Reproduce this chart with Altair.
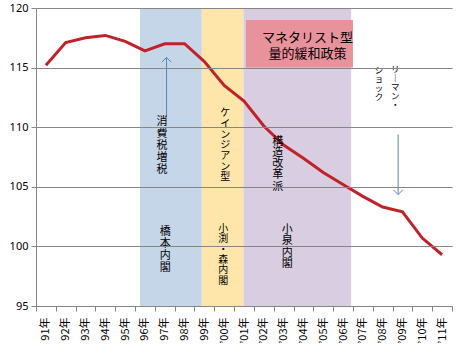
import altair as alt
import pandas as pd

# ---- data ----
years = ["91年", "92年", "93年", "94年", "95年", "96年", "97年", "98年", "99年",
         "’00年", "’01年", "’02年", "’03年", "’04年", "’05年", "’06年",
         "’07年", "’08年", "’09年", "’10年", "’11年"]
values = [115.2, 117.1, 117.5, 117.7, 117.2, 116.4, 117.0, 117.0, 115.5,
          113.5, 112.2, 110.1, 108.5, 107.4, 106.2, 105.2,
          104.2, 103.3, 102.9, 100.7, 99.3]

# shaded periods (positions in category units, 0..21)
period_start = [5.25, 8.37, 10.47]
period_end = [8.37, 10.47, 15.91]
period_colors = ["#C6D6E9", "#FEE6AA", "#D8CDE1"]

box_x = [10.6, 16.0]
box_y = [115.0, 119.0]
box_color = "#E8929C"

# annotations (vertical text written one char per line)
ann_text = ["消費税増税", "橋本内閣", "ケインジアン型", "小渕・森内閣",
            "構造改革派", "小泉内閣", "リ｜マン・", "ショック"]
ann_x = [6.36, 6.52, 9.55, 9.45, 12.2, 12.68, 18.13, 17.32]
ann_y = [110.9, 101.7, 111.6, 101.9, 109.3, 101.9, 115.2, 115.15]
ann_size = [11, 11, 10, 10, 11, 11, 8.5, 8.5]
ann_lh = [12, 12, 10.7, 10.4, 11.3, 11.5, 9.0, 9.0]

box_text = "マネタリスト型\n量的緩和政策"
box_text_x = 13.7
box_text_y = 117.95

arrow_x = [6.59, 18.28]
arrow_y_from = [110.8, 109.4]
arrow_y_to = [115.85, 104.35]

# ---- frames ----
df_line = pd.DataFrame({"year": years, "value": values})
df_periods = pd.DataFrame({"x0": period_start, "x1": period_end,
                           "c": period_colors, "y0": [95] * 3, "y1": [120] * 3})
df_box = pd.DataFrame({"x0": [box_x[0]], "x1": [box_x[1]],
                       "y0": [box_y[0]], "y1": [box_y[1]], "c": [box_color]})
df_ann = pd.DataFrame({"t": ["\n".join(list(s)) for s in ann_text],
                       "x": ann_x, "y": ann_y})
df_box_text = pd.DataFrame({"t": [box_text], "x": [box_text_x], "y": [box_text_y]})
df_arrows = pd.DataFrame({"x": arrow_x, "y0": arrow_y_from, "y1": arrow_y_to})

yscale = alt.Scale(domain=[95, 120], nice=False, zero=False)
qx = alt.Scale(domain=[0, 21], nice=False, zero=False)
JP = "Noto Sans CJK JP"

periods = alt.Chart(df_periods).mark_rect().encode(
    x=alt.X("x0:Q", scale=qx, axis=None),
    x2="x1:Q",
    y=alt.Y("y0:Q", scale=yscale),
    y2="y1:Q",
    color=alt.Color("c:N", scale=None),
)

box = alt.Chart(df_box).mark_rect().encode(
    x=alt.X("x0:Q", scale=qx, axis=None),
    x2="x1:Q",
    y=alt.Y("y0:Q", scale=yscale),
    y2="y1:Q",
    color=alt.Color("c:N", scale=None),
)

line = alt.Chart(df_line).mark_line(color="#C0222A", strokeWidth=3).encode(
    x=alt.X("year:N", sort=years, bandPosition=0.5,
            scale=alt.Scale(type="band", paddingInner=0, paddingOuter=0),
            axis=alt.Axis(title=None, labelAngle=270, tickBand="extent",
                          tickSize=5, labelPadding=6, labelFont=JP,
                          labelFontSize=11, labelColor="#000000",
                          domainColor="#868686", tickColor="#868686",
                          grid=False)),
    y=alt.Y("value:Q", scale=yscale,
            axis=alt.Axis(title=None, values=[95, 100, 105, 110, 115, 120],
                          grid=True, gridColor="#868686", zindex=1,
                          domainColor="#868686", tickColor="#868686",
                          tickSize=5, labelPadding=3, labelFontSize=11,
                          labelColor="#000000", labelFont="Noto Sans")),
)

arrow_lines = alt.Chart(df_arrows).mark_rule(color="#5B85B5", strokeWidth=1).encode(
    x=alt.X("x:Q", scale=qx, axis=None),
    y=alt.Y("y0:Q", scale=yscale),
    y2="y1:Q",
)

up_head = alt.Chart(df_arrows.iloc[[0]]).mark_point(
    shape="M-1,1L0,0L1,1", filled=False, color="#5B85B5", strokeWidth=1,
    size=90, opacity=1).encode(
    x=alt.X("x:Q", scale=qx, axis=None),
    y=alt.Y("y1:Q", scale=yscale),
)
down_head = alt.Chart(df_arrows.iloc[[1]]).mark_point(
    shape="M-1,-1L0,0L1,-1", filled=False, color="#5B85B5", strokeWidth=1,
    size=90, opacity=1).encode(
    x=alt.X("x:Q", scale=qx, axis=None),
    y=alt.Y("y1:Q", scale=yscale),
)

ann_layers = []
for i in range(len(ann_text)):
    ann_layers.append(
        alt.Chart(df_ann.iloc[[i]]).mark_text(
            lineBreak="\n", align="center", baseline="top", font=JP,
            fontSize=ann_size[i], lineHeight=ann_lh[i], color="#000000").encode(
            x=alt.X("x:Q", scale=qx, axis=None),
            y=alt.Y("y:Q", scale=yscale),
            text="t:N",
        )
    )

box_label = alt.Chart(df_box_text).mark_text(
    lineBreak="\n", align="center", baseline="top", font=JP,
    fontSize=13, lineHeight=16, color="#000000").encode(
    x=alt.X("x:Q", scale=qx, axis=None),
    y=alt.Y("y:Q", scale=yscale),
    text="t:N",
)

chart = alt.layer(
    periods, box, line, arrow_lines, up_head, down_head, *ann_layers, box_label
).resolve_scale(x="independent").properties(
    width=416, height=298,
    autosize=alt.AutoSizeParams(type="none"),
    padding={"left": 36, "top": 8, "right": 6, "bottom": 50},
    background="#FFFFFF",
).configure_view(stroke=None)

chart.save("out.html", embed_options={"renderer": "svg", "actions": False})
